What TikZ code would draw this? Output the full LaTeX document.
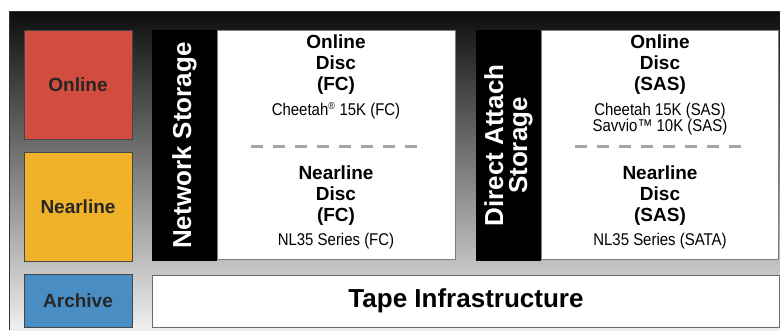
\documentclass[tikz,border=0pt]{standalone}
\usepackage{fontspec}
\setmainfont{Liberation Sans}
\newfontfamily\narrowfont[FakeStretch=0.88]{Liberation Sans}
\usepackage{tikz}
\usetikzlibrary{positioning,calc}
\definecolor{tierred}{RGB}{211,76,64}
\definecolor{tieryellow}{RGB}{240,178,40}
\definecolor{tierblue}{RGB}{74,141,195}
\definecolor{tierline}{RGB}{70,70,70}
\definecolor{sepgray}{RGB}{165,165,165}
\definecolor{midgray}{RGB}{128,120,116}

\tikzset{
    tierbox/.style={draw=tierline, line width=0.9pt, inner sep=0pt, outer sep=0pt,
        minimum width=108pt, text=black!85,
        font=\fontsize{19}{21}\selectfont\bfseries},
    band/.style={fill=black, inner sep=0pt, outer sep=0pt,
        minimum width=65pt, minimum height=231pt},
    bandtext/.style={rotate=90, text=white, align=center,
        font=\fontsize{26}{24}\selectfont\bfseries},
    discbox/.style={draw=tierline!70, fill=white, line width=0.8pt, inner sep=0pt,
        outer sep=0pt, minimum height=229pt},
    disctitle/.style={align=center, font=\fontsize{19}{21}\selectfont\bfseries},
    discmodel/.style={align=center, font=\narrowfont\fontsize{17}{16}\selectfont},
    sepline/.style={draw=sepgray, line width=3pt, dash pattern=on 12pt off 10pt}
}

\begin{document}
\begin{tikzpicture}[x=1pt, y=-1pt]
    \useasboundingbox (0,0) rectangle (780,330);
    % backdrop
    \fill[white] (0,0) rectangle (780,330);
    \shade[top color=black!95, middle color=midgray, bottom color=gray!12]
        (9,11) rectangle (780,330);
    \draw[black!80, line width=1pt] (9,330) -- (9,11) -- (780,11);

    % tiers on the left
    \node[tierbox, fill=tierred, minimum height=109pt] (online) at (78,84.5) {Online};
    \node[tierbox, fill=tieryellow, minimum height=109pt] (nearline) at (78,206.5) {Nearline};
    \node[tierbox, fill=tierblue, minimum height=53pt] (archive) at (78,300.5) {Archive};

    % network storage
    \node[band] (netband) at (184.5,145.5) {};
    \node[bandtext] at (netband) {Network Storage};
    \node[discbox, minimum width=238pt] (netbox) at (336,144.5) {};
    \node[disctitle] (netonline) at (336,64.5) {Online\\Disc\\(FC)};
    \node[discmodel] (netonmodel) at (336,111) {Cheetah\textsuperscript{\normalsize ®} 15K (FC)};
    \draw[sepline] (251,146) -- (425,146);
    \node[disctitle] (netnear) at (336,195.5) {Nearline\\Disc\\(FC)};
    \node[discmodel] (netnearmodel) at (336,241) {NL35 Series (FC)};

    % direct attach storage
    \node[band] (dasband) at (508.5,145.5) {};
    \node[bandtext] at (dasband) {Direct Attach\\Storage};
    \node[discbox, minimum width=237pt] (dasbox) at (659.5,144.5) {};
    \node[disctitle] (dasonline) at (660,64.5) {Online\\Disc\\(SAS)};
    \node[discmodel] (dasonmodel) at (660,119) {Cheetah 15K (SAS)\\Savvio™ 10K (SAS)};
    \draw[sepline] (575,146) -- (745,146);
    \node[disctitle] (dasnear) at (660,195.5) {Nearline\\Disc\\(SAS)};
    \node[discmodel] (dasnearmodel) at (660,241) {NL35 Series (SATA)};

    % tape
    \node[draw=tierline!80, fill=white, line width=0.9pt, inner sep=0pt,
        minimum width=627pt, minimum height=52pt,
        font=\fontsize{26}{28}\selectfont\bfseries] (tape) at (466,301) {Tape Infrastructure};
\end{tikzpicture}
\end{document}
